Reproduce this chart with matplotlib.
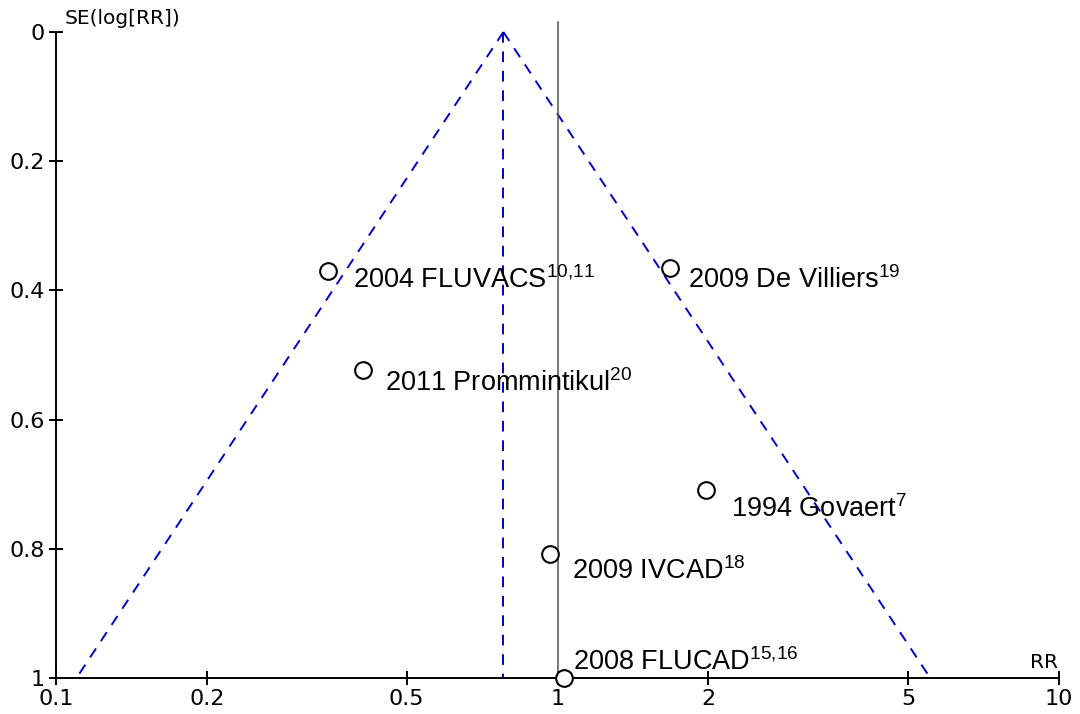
import numpy as np
import matplotlib
matplotlib.use("Agg")
import matplotlib.pyplot as plt

# Studies (RR, SE of log RR)
studies = ["2004 FLUVACS", "2009 De Villiers", "2011 Prommintikul",
           "1994 Govaert", "2009 IVCAD", "2008 FLUCAD"]
refs = ["10,11", "19", "20", "7", "18", "15,16"]
rr = [0.349, 1.673, 0.410, 1.974, 0.968, 1.028]
se = [0.370, 0.365, 0.523, 0.709, 0.808, 1.0]
pooled_rr = 0.78

# label offsets in pixels (dx right, dy down)
offsets = [(25, 9), (18, 12), (22, 13), (25, 19), (22, 17), (9, -16)]

xticks = [0.1, 0.2, 0.5, 1, 2, 5, 10]
xticklabels = ["0.1", "0.2", "0.5", "1", "2", "5", "10"]
yticks = [0, 0.2, 0.4, 0.6, 0.8, 1]
yticklabels = ["0", "0.2", "0.4", "0.6", "0.8", "1"]

plt.rcParams["font.family"] = "DejaVu Sans"
plt.rcParams["mathtext.fontset"] = "custom"
plt.rcParams["mathtext.rm"] = "Liberation Sans"

fig = plt.figure(figsize=(10.8, 7.14), dpi=100)
ax = fig.add_axes([56 / 1080, 1 - 678 / 714, 1003 / 1080, 646 / 714])
ax.set_xscale("log")
ax.set_xlim(0.1, 10)
ax.set_ylim(1, 0)

blue = "#0000c8"
dash = (0, (5.5, 4.5))
se_line = np.array([0, 1.0])
lo = np.exp(np.log(pooled_rr) - 1.96 * se_line)
hi = np.exp(np.log(pooled_rr) + 1.96 * se_line)
ax.plot(lo, se_line, ls=dash, color=blue, lw=1.4, clip_on=False)
ax.plot(hi, se_line, ls=dash, color=blue, lw=1.4, clip_on=False)
ax.plot([pooled_rr, pooled_rr], [0, 1], ls=dash, color=blue, lw=1.4, clip_on=False)

# null line
ax.plot([1, 1], [1, -0.016], color="#555555", lw=1.1, clip_on=False)

ax.plot(rr, se, "o", ms=12, mfc="white", mec="black", mew=1.5, clip_on=False, zorder=5)

for name, ref, x, y, (dx, dy) in zip(studies, refs, rr, se, offsets):
    ax.annotate(name + r"$^{\mathrm{" + ref.replace(",", "{,}") + "}}$",
                xy=(x, y), xytext=(dx * 0.72, -dy * 0.72), textcoords="offset points",
                ha="left", va="center", fontsize=19.5, family="Liberation Sans",
                zorder=6, annotation_clip=False)

for s in ["top", "right"]:
    ax.spines[s].set_visible(False)
for s in ["left", "bottom"]:
    ax.spines[s].set_linewidth(1.4)

ax.set_xticks(xticks)
ax.set_xticklabels(xticklabels)
ax.xaxis.set_minor_locator(matplotlib.ticker.NullLocator())
ax.set_yticks(yticks)
ax.set_yticklabels(yticklabels)
ax.tick_params(axis="both", direction="inout", length=10, width=1.4, labelsize=16)
ax.tick_params(axis="y", pad=3)
ax.tick_params(axis="x", pad=3)

fig.text(65 / 1080, 1 - 18 / 714, "SE(log[RR])", fontsize=14.5, ha="left", va="center")
fig.text(1058 / 1080, 1 - 662 / 714, "RR", fontsize=14.5, ha="right", va="center")

fig.savefig("out.png", dpi=100)
